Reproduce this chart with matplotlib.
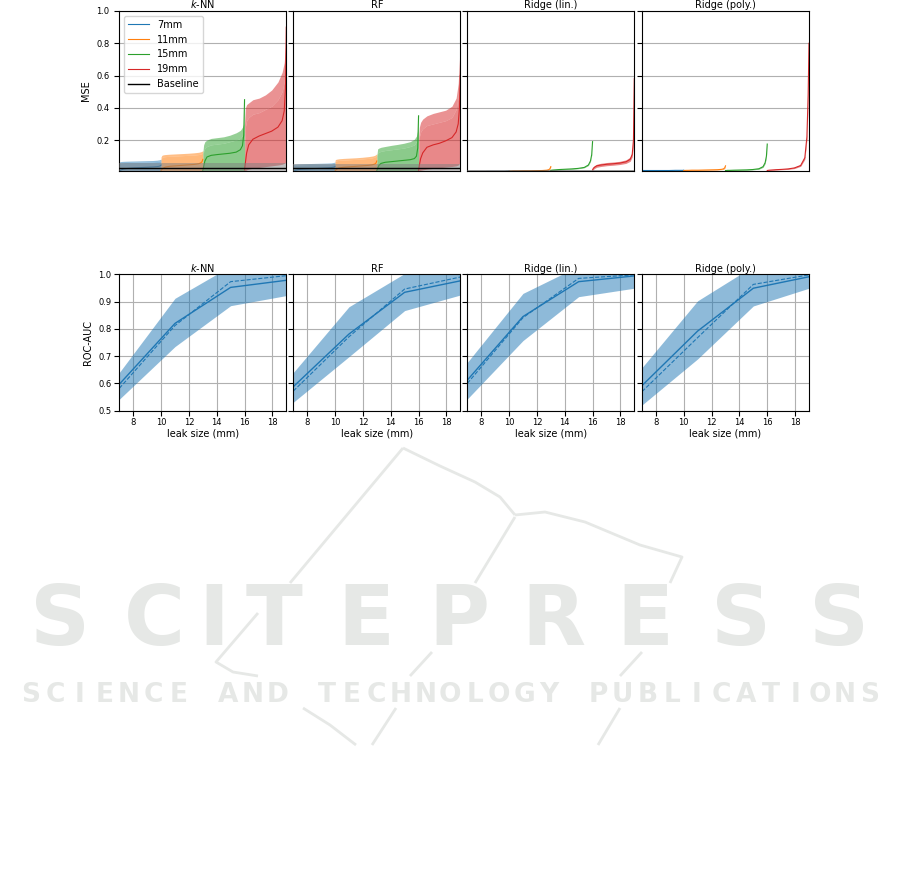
import numpy as np
import matplotlib
matplotlib.use("Agg")
import matplotlib.pyplot as plt
from matplotlib.lines import Line2D

models = ["$k$-NN", "RF", "Ridge (lin.)", "Ridge (poly.)"]
sizes = ["7mm", "11mm", "15mm", "19mm"]
leak_mm = [7, 11, 15, 19]

# rank (fraction of sorted test samples) at which the MSE curves are read
rank = [0, 0.02, 0.05, 0.1, 0.2, 0.35, 0.5, 0.65, 0.8, 0.9, 0.95, 0.98, 1.0]

# ---- MSE per sample, sorted; one list per leak size ----
# upper edge is noisy: "peak" = tips of the spikes, "trough" = bottom of them
knn_peak = [
    [0.062, 0.066, 0.067, 0.068, 0.069, 0.070, 0.071, 0.072, 0.073, 0.075, 0.077, 0.079, 0.082],
    [0.095, 0.105, 0.108, 0.110, 0.112, 0.114, 0.116, 0.118, 0.121, 0.124, 0.127, 0.130, 0.135],
    [0.120, 0.170, 0.190, 0.200, 0.210, 0.215, 0.220, 0.230, 0.245, 0.260, 0.280, 0.300, 0.450],
    [0.300, 0.400, 0.420, 0.430, 0.450, 0.460, 0.480, 0.510, 0.560, 0.620, 0.680, 0.780, 1.000],
]
knn_trough = [
    [0.055, 0.058, 0.059, 0.060, 0.061, 0.062, 0.063, 0.064, 0.065, 0.067, 0.069, 0.071, 0.074],
    [0.080, 0.092, 0.095, 0.097, 0.099, 0.101, 0.103, 0.105, 0.107, 0.110, 0.113, 0.116, 0.120],
    [0.050, 0.130, 0.150, 0.160, 0.170, 0.175, 0.180, 0.190, 0.200, 0.210, 0.230, 0.260, 0.450],
    [0.100, 0.280, 0.320, 0.340, 0.360, 0.370, 0.390, 0.410, 0.450, 0.500, 0.560, 0.650, 0.950],
]
knn_med = [
    [0.005, 0.010, 0.015, 0.020, 0.024, 0.027, 0.029, 0.031, 0.033, 0.035, 0.037, 0.040, 0.045],
    [0.010, 0.018, 0.025, 0.032, 0.037, 0.040, 0.043, 0.046, 0.049, 0.053, 0.058, 0.065, 0.080],
    [0.010, 0.035, 0.070, 0.095, 0.105, 0.110, 0.114, 0.118, 0.125, 0.140, 0.165, 0.230, 0.450],
    [0.015, 0.060, 0.120, 0.170, 0.205, 0.225, 0.240, 0.255, 0.280, 0.320, 0.380, 0.520, 0.900],
]
knn_lo = [
    [0.002, 0.002, 0.002, 0.002, 0.002, 0.002, 0.002, 0.002, 0.002, 0.002, 0.002, 0.002, 0.002],
    [0.003, 0.003, 0.003, 0.003, 0.003, 0.003, 0.003, 0.003, 0.003, 0.003, 0.004, 0.004, 0.005],
    [0.003, 0.003, 0.004, 0.004, 0.005, 0.005, 0.006, 0.006, 0.007, 0.008, 0.009, 0.010, 0.012],
    [0.005, 0.010, 0.015, 0.020, 0.025, 0.030, 0.035, 0.040, 0.045, 0.050, 0.055, 0.060, 0.080],
]

rf_peak = [
    [0.048, 0.050, 0.051, 0.052, 0.053, 0.054, 0.055, 0.056, 0.057, 0.058, 0.060, 0.062, 0.064],
    [0.075, 0.080, 0.082, 0.084, 0.086, 0.088, 0.090, 0.093, 0.097, 0.101, 0.105, 0.110, 0.115],
    [0.100, 0.145, 0.150, 0.155, 0.160, 0.167, 0.173, 0.180, 0.190, 0.205, 0.225, 0.260, 0.360],
    [0.200, 0.280, 0.310, 0.330, 0.350, 0.365, 0.375, 0.385, 0.410, 0.460, 0.550, 0.700, 1.000],
]
rf_trough = [
    [0.042, 0.044, 0.045, 0.046, 0.047, 0.048, 0.049, 0.050, 0.051, 0.052, 0.054, 0.056, 0.058],
    [0.065, 0.070, 0.072, 0.074, 0.076, 0.078, 0.080, 0.083, 0.086, 0.090, 0.094, 0.098, 0.104],
    [0.050, 0.120, 0.125, 0.130, 0.135, 0.140, 0.145, 0.150, 0.160, 0.170, 0.190, 0.220, 0.360],
    [0.080, 0.220, 0.250, 0.270, 0.290, 0.300, 0.310, 0.320, 0.340, 0.390, 0.470, 0.600, 0.900],
]
rf_med = [
    [0.004, 0.008, 0.012, 0.016, 0.019, 0.021, 0.023, 0.025, 0.027, 0.029, 0.031, 0.033, 0.037],
    [0.008, 0.015, 0.021, 0.027, 0.031, 0.034, 0.037, 0.040, 0.043, 0.047, 0.051, 0.057, 0.070],
    [0.010, 0.025, 0.042, 0.055, 0.062, 0.066, 0.070, 0.074, 0.078, 0.085, 0.100, 0.150, 0.350],
    [0.012, 0.045, 0.085, 0.120, 0.155, 0.170, 0.180, 0.195, 0.215, 0.250, 0.300, 0.400, 0.600],
]
rf_lo = [
    [0.002, 0.002, 0.002, 0.002, 0.002, 0.002, 0.002, 0.002, 0.002, 0.002, 0.002, 0.002, 0.002],
    [0.003, 0.003, 0.003, 0.003, 0.003, 0.003, 0.003, 0.003, 0.003, 0.003, 0.004, 0.004, 0.005],
    [0.003, 0.003, 0.004, 0.004, 0.005, 0.005, 0.006, 0.006, 0.007, 0.008, 0.009, 0.010, 0.012],
    [0.005, 0.008, 0.012, 0.015, 0.020, 0.024, 0.028, 0.032, 0.036, 0.040, 0.045, 0.055, 0.070],
]

# ridge models: narrow bands, no spiky edge
lin_up = [
    [0.007, 0.007, 0.007, 0.007, 0.007, 0.007, 0.008, 0.008, 0.008, 0.008, 0.009, 0.009, 0.010],
    [0.008, 0.009, 0.009, 0.010, 0.010, 0.011, 0.011, 0.012, 0.013, 0.015, 0.018, 0.025, 0.038],
    [0.014, 0.015, 0.016, 0.017, 0.019, 0.021, 0.023, 0.026, 0.033, 0.048, 0.074, 0.115, 0.195],
    [0.022, 0.034, 0.042, 0.050, 0.056, 0.061, 0.064, 0.068, 0.077, 0.094, 0.130, 0.240, 0.620],
]
lin_med = [
    [0.004, 0.004, 0.004, 0.004, 0.004, 0.004, 0.005, 0.005, 0.005, 0.005, 0.006, 0.006, 0.007],
    [0.006, 0.007, 0.007, 0.008, 0.008, 0.009, 0.009, 0.010, 0.011, 0.013, 0.016, 0.022, 0.035],
    [0.012, 0.013, 0.014, 0.015, 0.017, 0.019, 0.021, 0.024, 0.030, 0.045, 0.070, 0.110, 0.190],
    [0.015, 0.025, 0.032, 0.040, 0.045, 0.050, 0.053, 0.057, 0.065, 0.080, 0.110, 0.200, 0.580],
]
lin_lo = [
    [0.002, 0.002, 0.002, 0.002, 0.002, 0.002, 0.003, 0.003, 0.003, 0.003, 0.004, 0.004, 0.005],
    [0.004, 0.005, 0.005, 0.006, 0.006, 0.007, 0.007, 0.008, 0.009, 0.011, 0.014, 0.020, 0.032],
    [0.010, 0.011, 0.012, 0.013, 0.015, 0.017, 0.019, 0.022, 0.028, 0.042, 0.066, 0.105, 0.185],
    [0.010, 0.018, 0.024, 0.031, 0.036, 0.041, 0.044, 0.048, 0.055, 0.068, 0.095, 0.170, 0.540],
]

poly_up = [
    [0.013, 0.013, 0.013, 0.013, 0.013, 0.013, 0.013, 0.013, 0.014, 0.014, 0.014, 0.014, 0.015],
    [0.013, 0.013, 0.014, 0.014, 0.015, 0.015, 0.016, 0.017, 0.018, 0.020, 0.024, 0.031, 0.045],
    [0.013, 0.013, 0.014, 0.014, 0.015, 0.016, 0.017, 0.019, 0.025, 0.039, 0.066, 0.108, 0.180],
    [0.013, 0.014, 0.015, 0.016, 0.018, 0.021, 0.024, 0.031, 0.048, 0.100, 0.240, 0.520, 0.820],
]
poly_med = [
    [0.011, 0.011, 0.011, 0.011, 0.011, 0.011, 0.011, 0.011, 0.012, 0.012, 0.012, 0.012, 0.013],
    [0.011, 0.011, 0.012, 0.012, 0.013, 0.013, 0.014, 0.015, 0.016, 0.018, 0.021, 0.027, 0.040],
    [0.011, 0.011, 0.012, 0.012, 0.013, 0.014, 0.015, 0.017, 0.022, 0.035, 0.060, 0.100, 0.175],
    [0.011, 0.012, 0.013, 0.014, 0.016, 0.018, 0.021, 0.027, 0.042, 0.090, 0.220, 0.480, 0.800],
]
poly_lo = [
    [0.009, 0.009, 0.009, 0.009, 0.009, 0.009, 0.009, 0.009, 0.010, 0.010, 0.010, 0.010, 0.011],
    [0.009, 0.009, 0.010, 0.010, 0.011, 0.011, 0.012, 0.013, 0.014, 0.016, 0.018, 0.023, 0.035],
    [0.009, 0.009, 0.010, 0.010, 0.011, 0.012, 0.013, 0.015, 0.019, 0.031, 0.054, 0.092, 0.165],
    [0.009, 0.010, 0.011, 0.012, 0.014, 0.016, 0.018, 0.023, 0.037, 0.080, 0.200, 0.440, 0.760],
]

baseline_mean = [0.028, 0.026, 0.011, 0.003]
baseline_std = [0.028, 0.023, 0.002, 0.001]

# ---- ROC-AUC vs leak size ----
auc_mean = [
    [0.597, 0.820, 0.952, 0.978],
    [0.588, 0.781, 0.934, 0.976],
    [0.612, 0.845, 0.973, 0.994],
    [0.592, 0.792, 0.949, 0.991],
]
auc_median = [
    [0.582, 0.812, 0.973, 0.995],
    [0.572, 0.771, 0.946, 0.990],
    [0.600, 0.841, 0.985, 0.998],
    [0.570, 0.768, 0.963, 0.998],
]
auc_hi = [
    [0.640, 0.912, 1.030, 1.035],
    [0.640, 0.881, 1.003, 1.020],
    [0.677, 0.930, 1.030, 1.035],
    [0.658, 0.903, 1.030, 1.035],
]
auc_lo = [
    [0.542, 0.735, 0.885, 0.922],
    [0.531, 0.698, 0.867, 0.924],
    [0.543, 0.757, 0.918, 0.949],
    [0.521, 0.690, 0.884, 0.949],
]

mse_peak = [knn_peak, rf_peak, lin_up, poly_up]
mse_trough = [knn_trough, rf_trough, lin_up, poly_up]
mse_med = [knn_med, rf_med, lin_med, poly_med]
mse_lo = [knn_lo, rf_lo, lin_lo, poly_lo]

colors = ["C0", "C1", "C2", "C3"]
grid_c = "#b0b0b0"

W, H = 901, 876
fig = plt.figure(figsize=(W / 100, H / 100), dpi=100)


def fx(px):
    return px / W


def fy(py):
    return 1 - py / H


# publisher watermark in the background
wm = "#e6e8e6"
logo = [
    [(403, 448), (290, 583)],
    [(403, 448), (440, 466), (475, 482), (500, 497), (515, 515)],
    [(515, 515), (545, 512), (585, 522), (640, 545), (682, 557), (670, 583)],
    [(515, 517), (475, 583)],
    [(258, 613), (216, 662), (233, 672), (258, 676)],
    [(442, 630), (438, 641)],
    [(432, 652), (410, 676)],
    [(642, 652), (620, 676)],
    [(303, 708), (330, 725), (356, 745)],
    [(396, 708), (372, 745)],
    [(620, 708), (598, 745)],
]
for seg in logo:
    xs = [fx(p[0]) for p in seg]
    ys = [fy(p[1]) for p in seg]
    fig.add_artist(Line2D(xs, ys, color=wm, lw=2.0, zorder=0,
                          solid_capstyle="butt"))

big = "SCITEPRESS"
big_l = [18, 112, 207, 233, 325, 417, 511, 604, 699, 797]
big_r = [102, 196, 221, 315, 406, 500, 595, 686, 783, 882]
for ch, l, r in zip(big, big_l, big_r):
    fig.text(fx((l + r) / 2), fy(645), ch, color=wm, fontsize=60,
             fontweight="bold", ha="center", va="baseline", zorder=0)
small = "SCIENCE AND TECHNOLOGY PUBLICATIONS"
step = (882 - 18) / len(small)
for i, ch in enumerate(small):
    fig.text(fx(18 + step * (i + 0.5)), fy(702), ch, color=wm, fontsize=19,
             fontweight="bold", ha="center", va="baseline", zorder=0)

lefts = [119.3, 293.3, 467.3, 642.0]
aw = 167.0

# ---- top row: MSE ----
for m in range(4):
    ax = fig.add_axes([fx(lefts[m]), fy(171), fx(aw), (171 - 11) / H])
    for k in range(4):
        x = k + np.array(rank)
        ax.fill_between(x, mse_lo[m][k], mse_trough[m][k], color=colors[k],
                        alpha=0.55, lw=0)
        ax.fill_between(x, mse_trough[m][k], mse_peak[m][k], color=colors[k],
                        alpha=0.5, lw=0)
        ax.plot(x, mse_med[m][k], color=colors[k], lw=0.8, label=sizes[k])
    ax.axhspan(baseline_mean[m] - baseline_std[m],
               baseline_mean[m] + baseline_std[m], color="gray", alpha=0.5,
               lw=0, zorder=3)
    ax.axhline(baseline_mean[m], color="black", lw=1.0, label="Baseline",
               zorder=4)
    ax.set_xlim(0, 4)
    ax.set_ylim(0.008, 1.0)
    ax.set_yticks([0.2, 0.4, 0.6, 0.8, 1.0])
    ax.set_xticks([])
    ax.yaxis.grid(True, color=grid_c, lw=0.8)
    ax.set_axisbelow(True)
    ax.tick_params(labelsize=6, length=3.5, width=0.8)
    ax.set_title(models[m], fontsize=7, pad=2)
    if m == 0:
        ax.set_ylabel("MSE", fontsize=7)
        ax.legend(loc="upper left", fontsize=7, handlelength=2.2,
                  borderaxespad=0.5, framealpha=0.8)
    else:
        ax.set_yticklabels([])

# ---- bottom row: ROC-AUC ----
for m in range(4):
    ax = fig.add_axes([fx(lefts[m]), fy(410.7), fx(aw), (410.7 - 274.3) / H])
    ax.fill_between(leak_mm, auc_lo[m], auc_hi[m], color="C0", alpha=0.5,
                    lw=0)
    ax.plot(leak_mm, auc_mean[m], color="C0", lw=1.0)
    ax.plot(leak_mm, auc_median[m], color="C0", lw=0.8, ls="--")
    ax.set_xlim(7, 19)
    ax.set_ylim(0.5, 1.0)
    ax.set_xticks([8, 10, 12, 14, 16, 18])
    ax.set_yticks([0.5, 0.6, 0.7, 0.8, 0.9, 1.0])
    ax.grid(True, color=grid_c, lw=0.8)
    ax.set_axisbelow(True)
    ax.tick_params(labelsize=6, length=3.5, width=0.8, pad=2)
    ax.set_title(models[m], fontsize=7, pad=2)
    ax.set_xlabel("leak size (mm)", fontsize=7, labelpad=1)
    if m == 0:
        ax.set_ylabel("ROC-AUC", fontsize=7)
    else:
        ax.set_yticklabels([])

fig.savefig("out.png", dpi=100)
